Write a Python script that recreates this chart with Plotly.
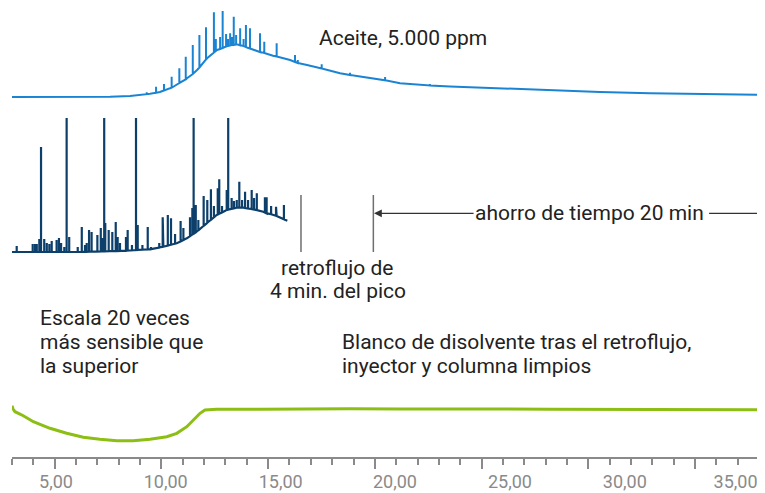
import plotly.graph_objects as go

# ---------------- data (time in min, response in arbitrary units) ----------------
# Oil sample, 5.000 ppm (top chromatogram): baseline hump
oil_base_t = [3.00, 5.25, 7.59, 8.53, 9.00, 9.47, 9.93, 10.54, 11.20, 11.67, 12.14, 12.61,
              13.07, 13.54, 14.01, 14.48, 15.23, 16.03, 16.82, 17.43, 18.37, 19.31, 20.38,
              21.18, 23.52, 25.86, 28.21, 30.55, 32.89, 35.24, 38.28]
oil_base_v = [0, 0, 0.2, 1.0, 2.0, 3.2, 5.0, 10, 18.7, 27, 38.7, 47,
              51, 52.7, 49.5, 46, 41.3, 37, 32, 28.7, 23.7, 20.5, 17,
              13.7, 10.5, 8.5, 6.5, 5, 3.7, 2.8, 2.0]
# Oil sample peaks: retention time, apex, base under the peak
oil_peak_t = [9.31, 9.75, 10.12, 10.48, 10.84, 11.14, 11.47, 11.78, 12.09, 12.46, 12.55,
              12.75, 12.87, 13.03, 13.12, 13.22, 13.30, 13.39, 13.50, 13.69, 13.85, 13.96,
              14.15, 14.62, 14.82, 15.40, 16.26, 16.39, 17.51, 18.84, 20.48, 22.58]
oil_peak_top = [4.7, 10.3, 13, 20.3, 28.7, 40.3, 52, 62, 69.7, 84.7, 58,
                60, 86, 63, 58, 63.7, 60, 80.3, 62, 68.7, 58, 72,
                68.7, 63.7, 55.3, 53.7, 42, 37, 32.7, 24.3, 20, 13]
oil_peak_base = [2.8, 4.3, 6.5, 9.4, 14, 17.5, 23, 29.5, 37.5, 44.5, 46,
                 48, 49, 50.5, 51, 51.5, 52, 52, 52.5, 51.7, 51, 50,
                 48.5, 45, 44, 40.5, 35, 34, 28.5, 22, 16.7, 11.5]

# Backflushed run (middle chromatogram): baseline
bf_base_t = [3.00, 6.03, 8.37, 9.47, 10.09, 10.72, 11.19, 11.65, 12.12, 12.59, 13.06,
             13.53, 13.84, 14.31, 14.77, 15.40, 15.90]
bf_base_v = [0, 0, 1.3, 2.7, 5.3, 8.7, 13.7, 20.3, 28.7, 37, 42,
             44.3, 44.3, 42.7, 40.3, 36, 31.3]
# Backflushed run peaks (values above 134 are off scale)
bf_peak_t = [3.22, 3.97, 4.08, 4.16, 4.28, 4.36, 4.51, 4.63, 4.75, 4.86, 5.09, 5.20, 5.30,
             5.45, 5.56, 5.68, 6.08, 6.27, 6.42, 6.50, 6.61, 6.73, 7.00, 7.16, 7.25, 7.32,
             7.37, 7.53, 7.70, 7.86, 7.95, 8.06, 8.34, 8.42, 8.62, 8.81, 8.89, 9.11, 9.36,
             9.51, 9.90, 10.06, 10.30, 10.45, 10.64, 10.90, 11.03, 11.34, 11.45, 11.51,
             11.61, 11.73, 11.98, 12.15, 12.32, 12.46, 12.64, 12.71, 12.84, 13.06, 13.13,
             13.29, 13.40, 13.53, 13.65, 13.78, 13.92, 14.06, 14.23, 14.34, 14.47, 14.85,
             14.93, 15.14, 15.37, 15.74]
bf_peak_top = [6, 8, 8, 8, 13, 105, 13, 9, 8, 11, 12, 14, 9,
               5, 160, 15, 5, 25, 7, 9, 22, 20, 17, 24, 14, 160,
               29, 22, 20, 30, 15, 9, 15, 22, 7, 160, 27, 7, 25,
               5, 9, 34.7, 37, 33.7, 18, 31, 24, 34.7, 44, 160,
               47, 32, 56, 52, 62.7, 46, 63.7, 72.7, 46, 62, 160,
               54, 51, 52, 70.3, 52, 60.3, 52, 62, 54, 58.7, 54.7,
               54.7, 46, 45.3, 47]
bf_peak_base = [0, 0, 0, 0, 0, 0, 0, 0, 0, 0, 0, 0, 0,
                0, 0, 0, 0, 0.1, 0.2, 0.2, 0.3, 0.3, 0.5, 0.6, 0.6, 0.7,
                0.7, 0.8, 0.9, 1.0, 1.0, 1.1, 1.3, 1.4, 1.7, 2.0, 2.1, 2.3, 2.6,
                2.8, 4.5, 5.2, 6.4, 7.3, 8.3, 10.6, 12, 15.8, 17.5, 18.3,
                19.7, 21.7, 26.2, 29.3, 32.2, 34.7, 37.5, 38.3, 39.6, 42, 42.4,
                43.2, 43.7, 44.3, 44.3, 44.3, 44, 43.5, 43, 42.5, 41.9, 39.5,
                38.6, 37.8, 36.2, 32.7]

# Solvent blank after backflush (bottom trace, 20x more sensitive scale)
blank_t = [3.00, 3.05, 3.14, 3.53, 4.00, 4.78, 5.56, 6.34, 7.12, 7.91, 8.68, 9.47, 10.25,
           10.72, 11.19, 11.49, 11.81, 12.04, 12.59, 14.62, 16.49, 18.84, 21.18, 23.52,
           25.86, 28.21, 30.55, 32.89, 35.24, 38.28]
blank_v = [3.3, 0, -2.7, -6.7, -12.7, -19.3, -24.3, -28.3, -30.3, -31.7, -31.7, -30.3, -27.7,
           -24.3, -17.7, -11, -4.3, -1, -0.3, -0.3, 0, 0.2, 0, 0.3,
           0, -0.2, -0.3, -0.5, -0.6, -0.8]

# Axis tick labels
tick_major = [5, 10, 15, 20, 25, 30, 35]
label_pos = [5.06, 10.20, 15.59, 20.94, 26.33, 31.71, 36.90]
label_text = ["5,00", "10,00", "15,00", "20,00", "25,00", "30,00", "35,00"]

backflush_time = 16.54
end_saved = 19.93
x_range = [3.0, 38.28]


def build(base_t, base_v, pk_t, pk_top, pk_base):
    events = [(t, [v]) for t, v in zip(base_t, base_v)]
    events += [(t, [b, h, b]) for t, h, b in zip(pk_t, pk_top, pk_base)]
    events.sort(key=lambda e: e[0])
    xs, ys = [], []
    for t, vals in events:
        for v in vals:
            xs.append(t)
            ys.append(v)
    return xs, ys


oil_x, oil_y = build(oil_base_t, oil_base_v, oil_peak_t, oil_peak_top, oil_peak_base)
bf_x, bf_y = build(bf_base_t, bf_base_v, bf_peak_t, bf_peak_top, bf_peak_base)

FONT = "Roboto, 'Noto Sans', sans-serif"
TXT = "#222222"
GREY = "#8a8a8a"
TSIZE = 21

fig = go.Figure()
fig.add_trace(go.Scatter(x=blank_t, y=blank_v, mode="lines", xaxis="x", yaxis="y",
                         line=dict(color="#8cbe14", width=3), hoverinfo="skip"))
fig.add_trace(go.Scatter(x=bf_x, y=bf_y, mode="lines", xaxis="x", yaxis="y2",
                         line=dict(color="#0d3f6b", width=2.2), hoverinfo="skip"))
fig.add_trace(go.Scatter(x=oil_x, y=oil_y, mode="lines", xaxis="x2", yaxis="y3",
                         line=dict(color="#1a84d3", width=2), hoverinfo="skip"))

hidden = dict(visible=False, showgrid=False, zeroline=False, fixedrange=True,
              automargin=False)

# the page body adds an 8px offset, so the figure is sized to fit inside the window
fig.update_layout(
    width=757, height=485,
    margin=dict(l=4, r=0, t=0, b=36, autoexpand=False),
    paper_bgcolor="white", plot_bgcolor="white",
    showlegend=False,
    font=dict(family=FONT, color=TXT, size=TSIZE),
    xaxis=dict(range=x_range, showgrid=False, zeroline=False, showline=True,
               linecolor=GREY, linewidth=1.5, ticks="outside", tickvals=tick_major,
               ticklen=10, tickwidth=1.5, tickcolor=GREY, showticklabels=False,
               minor=dict(ticks="outside", dtick=1, tick0=0, ticklen=6, tickwidth=1.5,
                          tickcolor=GREY),
               anchor="y", automargin=False),
    xaxis2=dict(range=x_range, overlaying="x", anchor="y", side="bottom",
                showgrid=False, zeroline=False, showline=False, ticks="",
                tickvals=label_pos, ticktext=label_text, ticklabelstandoff=12,
                automargin=False,
                tickfont=dict(family=FONT, size=18, color=GREY)),
    yaxis=dict(range=[-48, 19], domain=[0, 0.1492], **hidden),
    yaxis2=dict(range=[-10, 134], domain=[0.4343, 0.7550], **hidden),
    yaxis3=dict(range=[-8, 89], domain=[0.7840, 1.0], anchor="x2", **hidden),
)

# backflush markers
for xv in (backflush_time, end_saved):
    fig.add_shape(type="line", xref="x", yref="y2", x0=xv, x1=xv, y0=0, y1=57,
                  line=dict(color="#6e6e6e", width=1.5))
fig.add_shape(type="line", xref="x", yref="y2", x0=35.66, x1=x_range[1], y0=38.7, y1=38.7,
              line=dict(color="#333333", width=1.2))

fig.add_annotation(x=end_saved + 0.03, y=38.7, xref="x", yref="y2",
                   ax=30.06, ay=38.7, axref="x", ayref="y2",
                   text="ahorro de tiempo 20 min", showarrow=True, arrowhead=2,
                   arrowsize=1.3, arrowwidth=1.2, arrowcolor="#333333", standoff=0,
                   font=dict(size=TSIZE, color=TXT))

fig.add_annotation(x=21.32, y=59, xref="x", yref="y3", text="Aceite, 5.000 ppm",
                   showarrow=False, yanchor="middle", font=dict(size=TSIZE, color=TXT))

# multi-line notes, one annotation per line (line pitch of the reference)
notes = [
    (18.27, 0.4209, "center", "retroflujo de"),
    (18.27, 0.3697, "center", "4 min. del pico"),
    (4.22, 0.3096, "left", "Escala 20 veces"),
    (4.22, 0.2561, "left", "más sensible que"),
    (4.22, 0.2027, "left", "la superior"),
    (18.37, 0.2561, "left", "Blanco de disolvente tras el retroflujo,"),
    (18.37, 0.2027, "left", "inyector y columna limpios"),
]
for xv, yv, xa, txt in notes:
    fig.add_annotation(x=xv, y=yv, xref="x", yref="paper", xanchor=xa, yanchor="middle",
                       text=txt, showarrow=False, font=dict(size=TSIZE, color=TXT))

fig.write_html("out.html")
